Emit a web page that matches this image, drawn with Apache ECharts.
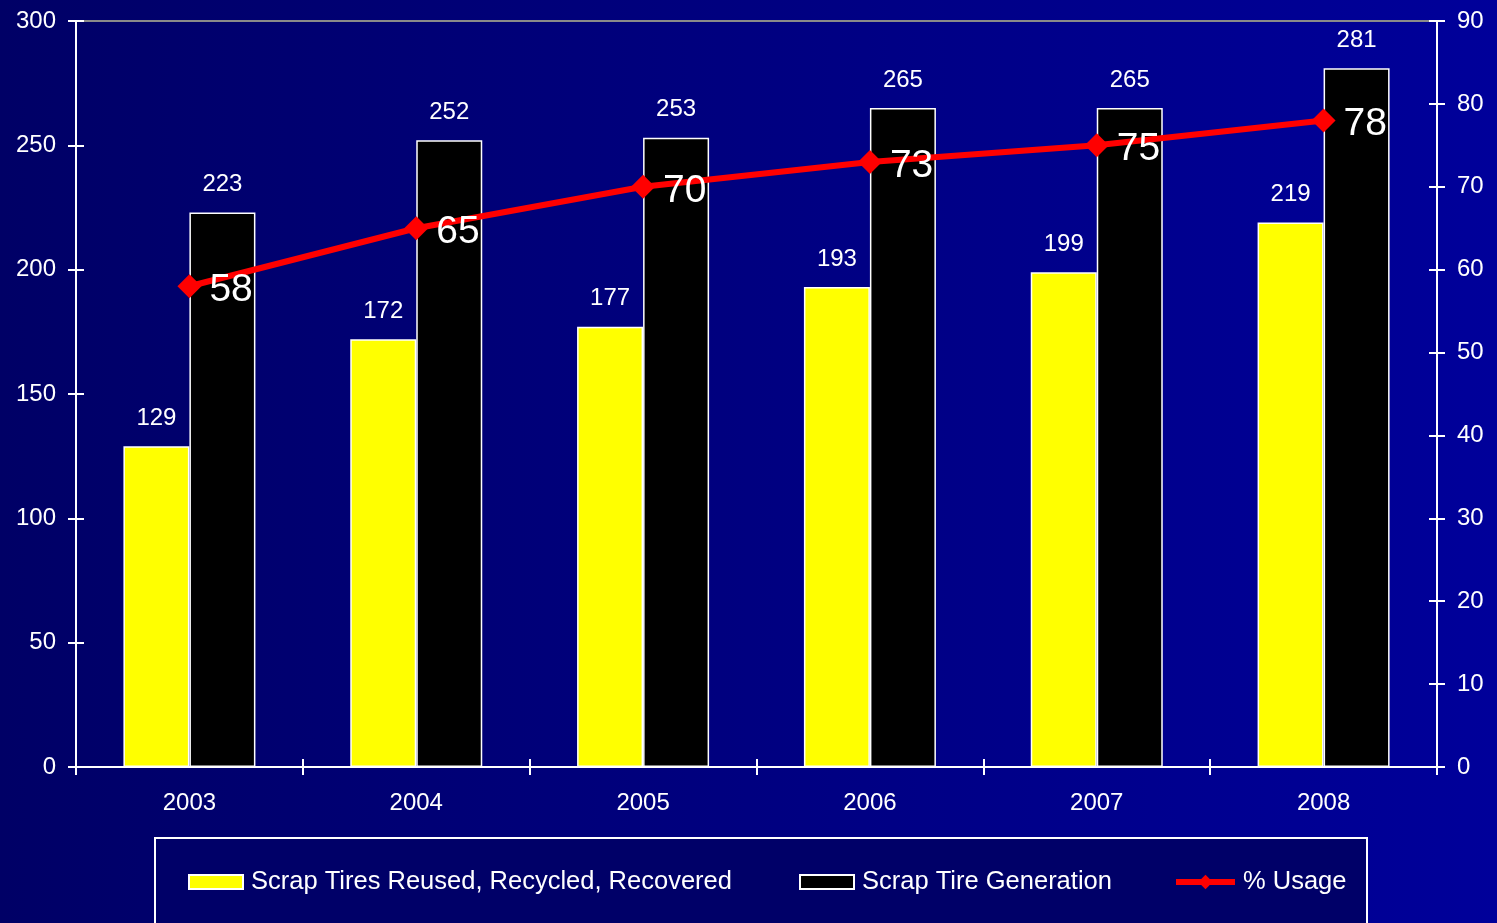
<!DOCTYPE html>
<html>
<head>
<meta charset="utf-8">
<script src="https://cdn.jsdelivr.net/npm/echarts@6/dist/echarts.min.js"></script>
<style>
  html, body { margin: 0; padding: 0; }
  #main { width: 1497px; height: 923px; }
</style>
</head>
<body>
<div id="main"></div>
<script>
var years = ['2003', '2004', '2005', '2006', '2007', '2008'];
var reused = [129, 172, 177, 193, 199, 219];
var generation = [223, 252, 253, 265, 265, 281];
var usage = [58, 65, 70, 73, 75, 78];

var FONT = "'Liberation Sans', Arial, sans-serif";

var chart = echarts.init(document.getElementById('main'));

// hidden helper axes give the ticks that cross the axis line
function crossY(pos, max, interval) {
  return {
    type: 'value', position: pos, min: 0, max: max, interval: interval,
    axisLine: { show: false },
    axisTick: { show: true, inside: true, length: 8, lineStyle: { color: '#fff', width: 2 } },
    axisLabel: { show: false },
    splitLine: { show: false }
  };
}

// one legend per entry so each can sit where the original puts it
function legendAt(left, top, w, h, item) {
  return {
    left: left, top: top, itemWidth: w, itemHeight: h,
    textStyle: { color: '#fff', fontSize: 25.5, fontFamily: FONT, padding: [0, 0, 0, 3] },
    data: [item]
  };
}

var option = {
  backgroundColor: {
    type: 'linear', x: 0, y: 0, x2: 1, y2: 0,
    colorStops: [{ offset: 0, color: '#000066' }, { offset: 1, color: '#00009a' }]
  },
  textStyle: { fontFamily: FONT },
  animation: false,
  grid: {
    left: 76, right: 60, top: 21, bottom: 156,
    show: true, borderColor: '#8a8a8a', borderWidth: 2, backgroundColor: 'transparent'
  },
  graphic: [{
    type: 'rect', z: -1,
    shape: { x: 155, y: 838, width: 1212, height: 110 },
    style: { fill: '#000068', stroke: '#ffffff', lineWidth: 2 }
  }],
  legend: [
    legendAt(183, 864, 54, 14, { name: 'Scrap Tires Reused, Recycled, Recovered', icon: 'rect', itemStyle: { borderColor: '#fff', borderWidth: 2 } }),
    legendAt(794, 864, 54, 14, { name: 'Scrap Tire Generation', icon: 'rect', itemStyle: { borderColor: '#fff', borderWidth: 2 } }),
    legendAt(1168, 864, 59, 18, { name: '% Usage', lineStyle: { width: 6, color: '#ff0000' } })
  ],
  xAxis: [{
    type: 'category', data: years,
    axisLine: { lineStyle: { color: '#fff', width: 2 } },
    axisTick: { show: true, length: 8, lineStyle: { color: '#fff', width: 2 } },
    axisLabel: { color: '#fff', fontSize: 24, margin: 24, fontFamily: FONT }
  }, {
    type: 'category', data: years, position: 'bottom',
    axisLine: { show: false },
    axisTick: { show: true, inside: true, length: 8, lineStyle: { color: '#fff', width: 2 } },
    axisLabel: { show: false }
  }],
  yAxis: [{
    type: 'value', min: 0, max: 300, interval: 50, position: 'left',
    axisLine: { show: true, lineStyle: { color: '#fff', width: 2 } },
    axisTick: { show: true, length: 8, lineStyle: { color: '#fff', width: 2 } },
    axisLabel: { color: '#fff', fontSize: 24, margin: 20, fontFamily: FONT },
    splitLine: { show: false }
  }, {
    type: 'value', min: 0, max: 90, interval: 10, position: 'right',
    axisLine: { show: true, lineStyle: { color: '#fff', width: 2 } },
    axisTick: { show: true, length: 8, lineStyle: { color: '#fff', width: 2 } },
    axisLabel: { color: '#fff', fontSize: 24, margin: 20, fontFamily: FONT },
    splitLine: { show: false }
  }, crossY('left', 300, 50), crossY('right', 90, 10)],
  series: [{
    name: 'Scrap Tires Reused, Recycled, Recovered',
    type: 'bar', data: reused, barWidth: 66, barGap: '0%',
    itemStyle: { color: '#ffff00', borderColor: '#ffffff', borderWidth: 1.5 },
    label: { show: true, position: 'top', distance: 16, color: '#fff', fontSize: 24, fontFamily: FONT }
  }, {
    name: 'Scrap Tire Generation',
    type: 'bar', data: generation, barWidth: 66, barGap: '0%',
    itemStyle: { color: '#000000', borderColor: '#ffffff', borderWidth: 1.5 },
    label: { show: true, position: 'top', distance: 16, color: '#fff', fontSize: 24, fontFamily: FONT }
  }, {
    name: '% Usage',
    type: 'line', yAxisIndex: 1, data: usage,
    symbol: 'diamond', symbolSize: 24,
    lineStyle: { color: '#ff0000', width: 6 },
    itemStyle: { color: '#ff0000' },
    label: { show: true, position: 'right', distance: 8, offset: [0, 4], color: '#fff', fontSize: 39, fontFamily: FONT },
    z: 5
  }]
};

chart.setOption(option);
</script>
</body>
</html>
